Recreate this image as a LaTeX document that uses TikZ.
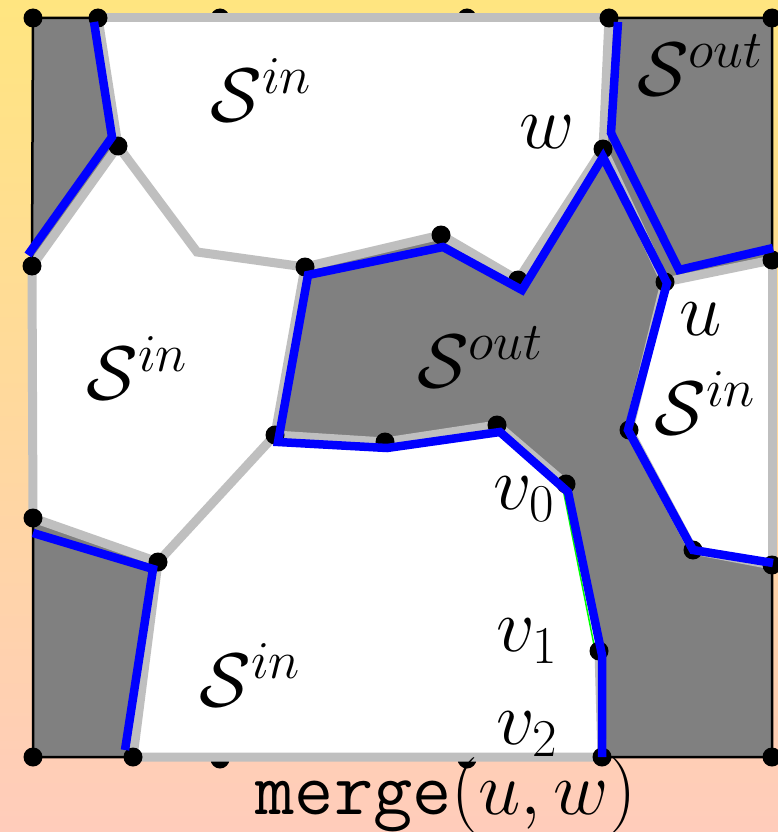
\RequirePackage{fix-cm}
\documentclass[tikz,border=0pt]{standalone}
\usepackage{amsmath}
\definecolor{bgtop}{RGB}{255,229,128}
\definecolor{bgbot}{RGB}{255,204,187}
\definecolor{cellgray}{RGB}{128,128,128}
\definecolor{edgegray}{RGB}{191,191,191}
\begin{document}
\begin{tikzpicture}[x=1pt,y=-1pt,
  lbl/.style={font=\fontsize{76}{82}\selectfont, inner sep=0pt},
  region/.style={fill=cellgray, draw=black, line width=2.5pt, line join=miter},
  gedge/.style={draw=edgegray, line width=9pt, line join=miter},
  bedge/.style={draw=blue, line width=8.5pt, line join=miter},
  vdot/.style={fill=black}]
\useasboundingbox (0,0) rectangle (778,832);
\shade[top color=bgtop, bottom color=bgbot] (0,0) rectangle (778,832);

% vertices
\coordinate (TL) at (33,18);  \coordinate (T1) at (98,18);
\coordinate (T2) at (220,18); \coordinate (T3) at (467,18);
\coordinate (T4) at (609,18); \coordinate (TR) at (772,18);
\coordinate (R1) at (772,260); \coordinate (R2) at (772,565);
\coordinate (BR) at (772,757); \coordinate (B4) at (602,757);
\coordinate (B3) at (467,759); \coordinate (B2) at (220,759);
\coordinate (B1) at (133,757); \coordinate (BL) at (33,757);
\coordinate (L2) at (33,518);  \coordinate (L1) at (32,266);
\coordinate (a) at (118,146); \coordinate (b) at (197,252);
\coordinate (c) at (305,267); \coordinate (d) at (441,235);
\coordinate (e) at (518,280); \coordinate (w) at (603,149);
\coordinate (u) at (665,282); \coordinate (f) at (629,430);
\coordinate (g) at (693,550); \coordinate (h) at (275,435);
\coordinate (i) at (385,442); \coordinate (j) at (497,425);
\coordinate (v0) at (566,484); \coordinate (v1) at (599,651);
\coordinate (k) at (158,562);

% hidden dots (drawn under the cells)
\foreach \p in {T2,T3,B2,B3} \fill[vdot] (\p) circle (9.5pt);

% white square
\fill[white] (TL) rectangle (BR);

% gray cells
\draw[region] (TL) -- (T1) -- (a) -- (L1) -- cycle;
\draw[region] (T4) -- (TR) -- (R1) -- (u) -- (w) -- cycle;
\draw[region] (c) -- (d) -- (e) -- (w) -- (u) -- (f) -- (g) -- (R2) -- (BR) -- (B4) -- (v1) -- (v0) -- (j) -- (i) -- (h) -- cycle;
\draw[region] (L2) -- (k) -- (B1) -- (BL) -- cycle;

% light gray edges
\draw[gedge] (T1) -- (T4);
\draw[gedge] (T1) -- (a) -- (L1);
\draw[gedge] (a) -- (b) -- (c);
\draw[gedge] (L1) -- (L2);
\draw[gedge] (c) -- (d) -- (e) -- (w) -- (T4);
\draw[gedge] (w) -- (u) -- (R1);
\draw[gedge] (R1) -- (R2);
\draw[gedge] (c) -- (h) -- (k) -- (L2);
\draw[gedge] (k) -- (B1) -- (B4);
\draw[gedge] (h) -- (i) -- (j) -- (v0);
\draw[gedge] (v1) -- (B4);
\draw[gedge] (u) -- (f) -- (g) -- (R2);

% green edge v0--v1
\draw[green, line width=1.5pt] ([shift={(-3,5)}]v0) -- ([shift={(-4,-1)}]v1);

% dots
\foreach \p in {TL,T1,T4,TR,R1,R2,BR,B4,B1,BL,L2,L1,a,c,d,e,w,u,f,g,h,i,j,v0,v1,k}
  \fill[vdot] (\p) circle (9.5pt);

% blue paths
\draw[bedge] (94,22) -- (112,137) -- (28,255);
\draw[bedge] (618,22) -- (611,133) -- (679,270) -- (773,248);
\draw[bedge] (602,757) -- (602,655) -- (568,492) -- (500,432) -- (387,448) -- (278,442)
  -- (308,275) -- (443,247) -- (522,290) -- (603,157) -- (667,283) -- (628,430)
  -- (693,550) -- (773,563);
\draw[bedge] (33,533) -- (153,569) -- (125,750);

% labels
\node[lbl] (sin1) at (261,90) {$\mathcal{S}^{in}$};
\node[lbl] (sin2) at (137,368) {$\mathcal{S}^{in}$};
\node[lbl] (sin3) at (250,675) {$\mathcal{S}^{in}$};
\node[lbl] (sin4) at (705,403) {$\mathcal{S}^{in}$};
\node[lbl] (sout1) at (700,65) {$\mathcal{S}^{out}$};
\node[lbl] (sout2) at (480,357) {$\mathcal{S}^{out}$};
\node[lbl] (lw) at (547,132) {$w$};
\node[lbl] (lu) at (701,319) {$u$};
\node[lbl] (lv0) at (524,499) {$v_0$};
\node[lbl] (lv1) at (527,641) {$v_1$};
\node[lbl] (lv2) at (527,734) {$v_2$};
\node[lbl, anchor=base] (merge) at (446,814) {\texttt{merge}$(u,w)$};
\end{tikzpicture}
\end{document}
